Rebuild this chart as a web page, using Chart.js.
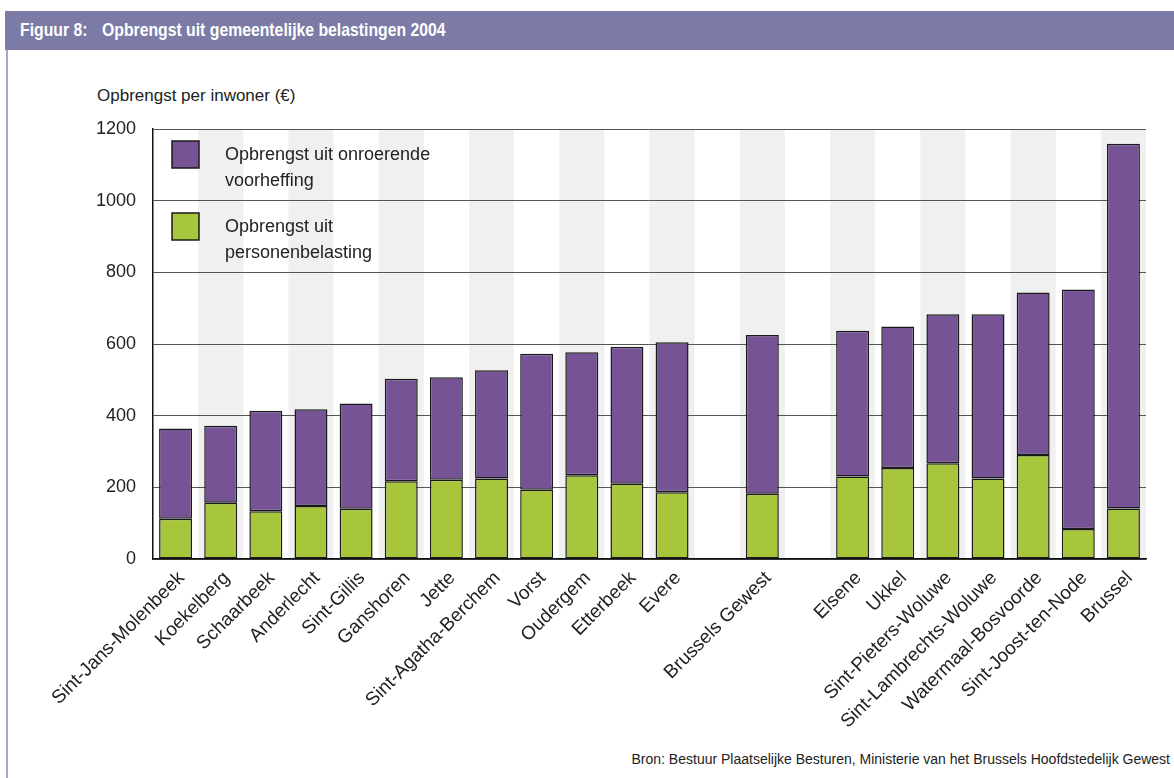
<!DOCTYPE html>
<html>
<head>
<meta charset="utf-8">
<script src="https://cdn.jsdelivr.net/npm/chart.js@4.4.1/dist/chart.umd.min.js"></script>
<style>
    html, body { margin: 0; padding: 0; background: #ffffff; }
    #wrap { position: relative; width: 1174px; height: 778px; overflow: hidden; font-family: 'Liberation Sans', Arial, sans-serif; }
    #kop { position: absolute; left: 5px; top: 11px; width: 1169px; height: 39px; background: #7b7ba6; }
    #kop span { position: absolute; top: 8px; color: #ffffff; font-weight: bold; font-size: 19px; transform: scaleX(0.83); transform-origin: left top; white-space: nowrap; }
    #rand { position: absolute; left: 6px; top: 50px; width: 2px; height: 728px; background: #a6a6cc; }
    #astitel { position: absolute; left: 97px; top: 86px; font-size: 17px; color: #222; white-space: nowrap; }
    #bron { position: absolute; right: 4px; top: 751px; font-size: 14px; color: #222; white-space: nowrap; }
    #grafiek { position: absolute; left: 0; top: 0; }
</style>
</head>
<body>
<div id="wrap">
    <div id="kop"><span style="left:15px">Figuur 8:</span><span style="left:97px">Opbrengst uit gemeentelijke belastingen 2004</span></div>
    <div id="rand"></div>
    <div id="astitel">Opbrengst per inwoner (€)</div>
    <div id="bron">Bron: Bestuur Plaatselijke Besturen, Ministerie van het Brussels Hoofdstedelijk Gewest</div>
    <canvas id="grafiek" width="1174" height="778"></canvas>
</div>
<script>
// Gemeenten (lege labels = tussenruimte)
const gemeenten = ['Sint-Jans-Molenbeek', 'Koekelberg', 'Schaarbeek', 'Anderlecht', 'Sint-Gillis', 'Ganshoren',
    'Jette', 'Sint-Agatha-Berchem', 'Vorst', 'Oudergem', 'Etterbeek', 'Evere', '', 'Brussels Gewest', '',
    'Elsene', 'Ukkel', 'Sint-Pieters-Woluwe', 'Sint-Lambrechts-Woluwe', 'Watermaal-Bosvoorde', 'Sint-Joost-ten-Node', 'Brussel'];

// Opbrengst per inwoner (€)
const personenbelasting = [112, 157, 133, 148, 140, 217, 221, 225, 193, 234, 210, 186, null, 182, null,
    230, 254, 267, 225, 290, 84, 141];
const onroerendeVoorheffing = [252, 215, 281, 270, 294, 286, 286, 302, 380, 343, 382, 419, null, 443, null,
    407, 395, 416, 458, 454, 668, 1018];

// Y-as
const yTicks = [0, 200, 400, 600, 800, 1000, 1200];

// Legende teksten (op twee regels)
const legendeTeksten = [
    ['Opbrengst uit onroerende', 'voorheffing'],
    ['Opbrengst uit', 'personenbelasting']
];

const kleurPaars = '#765394';
const kleurGroen = '#a8c63c';

// Grijze banden achter de staven
const bandenPlugin = {
    id: 'banden',
    beforeDraw(chart) {
        const { ctx, chartArea, scales } = chart;
        const x = scales.x;
        const breedte = x.getPixelForValue(1) - x.getPixelForValue(0);
        ctx.save();
        ctx.fillStyle = '#f0f0f0';
        for (let i = 1; i < gemeenten.length; i += 2) {
            const midden = x.getPixelForValue(i);
            ctx.fillRect(midden - breedte / 2, chartArea.top, breedte, chartArea.bottom - chartArea.top);
        }
        ctx.restore();
    }
};

// Legende binnen het grafiekvlak
const legendePlugin = {
    id: 'legende',
    afterDatasetsDraw(chart) {
        const { ctx, chartArea } = chart;
        const kleuren = [kleurPaars, kleurGroen];
        ctx.save();
        ctx.font = '18px "Liberation Sans", Arial, sans-serif';
        ctx.textBaseline = 'alphabetic';
        for (let i = 0; i < legendeTeksten.length; i++) {
            const top = chartArea.top + 12 + i * 72;
            ctx.fillStyle = kleuren[i];
            ctx.fillRect(chartArea.left + 19, top, 27, 27);
            ctx.strokeStyle = '#1a1a1a';
            ctx.lineWidth = 1.5;
            ctx.strokeRect(chartArea.left + 19, top, 27, 27);
            ctx.fillStyle = '#222';
            legendeTeksten[i].forEach((regel, r) => {
                ctx.fillText(regel, chartArea.left + 72, top + 19 + r * 26);
            });
        }
        ctx.restore();
    }
};

const ctx = document.getElementById('grafiek').getContext('2d');
new Chart(ctx, {
    type: 'bar',
    data: {
        labels: gemeenten,
        datasets: [
            {
                label: 'Opbrengst uit personenbelasting',
                data: personenbelasting,
                backgroundColor: kleurGroen,
                borderColor: '#1a1a1a',
                borderWidth: 1.5,
                borderSkipped: false,
                categoryPercentage: 1,
                barPercentage: 0.73
            },
            {
                label: 'Opbrengst uit onroerende voorheffing',
                data: onroerendeVoorheffing,
                backgroundColor: kleurPaars,
                borderColor: '#1a1a1a',
                borderWidth: 1.5,
                borderSkipped: false,
                categoryPercentage: 1,
                barPercentage: 0.73
            }
        ]
    },
    options: {
        responsive: false,
        animation: false,
        layout: { padding: { left: 0, right: 28, top: 129, bottom: 0 } },
        plugins: {
            legend: { display: false },
            title: { display: false },
            tooltip: { enabled: true }
        },
        scales: {
            x: {
                stacked: true,
                grid: { display: false, drawTicks: false },
                border: { display: true, color: '#111', width: 1.5 },
                ticks: {
                    autoSkip: false,
                    maxRotation: 45,
                    minRotation: 45,
                    padding: 8,
                    labelOffset: 6,
                    color: '#222',
                    font: { family: '"Liberation Sans", Arial, sans-serif', size: 19 }
                },
                afterFit(scale) { scale.height = 219; }
            },
            y: {
                stacked: true,
                min: 0,
                max: 1200,
                afterBuildTicks(scale) { scale.ticks = yTicks.map(v => ({ value: v })); },
                grid: { color: '#555', lineWidth: 1, drawTicks: false },
                border: { display: true, color: '#111', width: 1.5 },
                ticks: {
                    padding: 17,
                    color: '#222',
                    font: { family: '"Liberation Sans", Arial, sans-serif', size: 18 },
                    callback: function(value) {
                        return String(value);
                    }
                },
                afterFit(scale) { scale.width = 153; }
            }
        }
    },
    plugins: [bandenPlugin, legendePlugin]
});
</script>
</body>
</html>
